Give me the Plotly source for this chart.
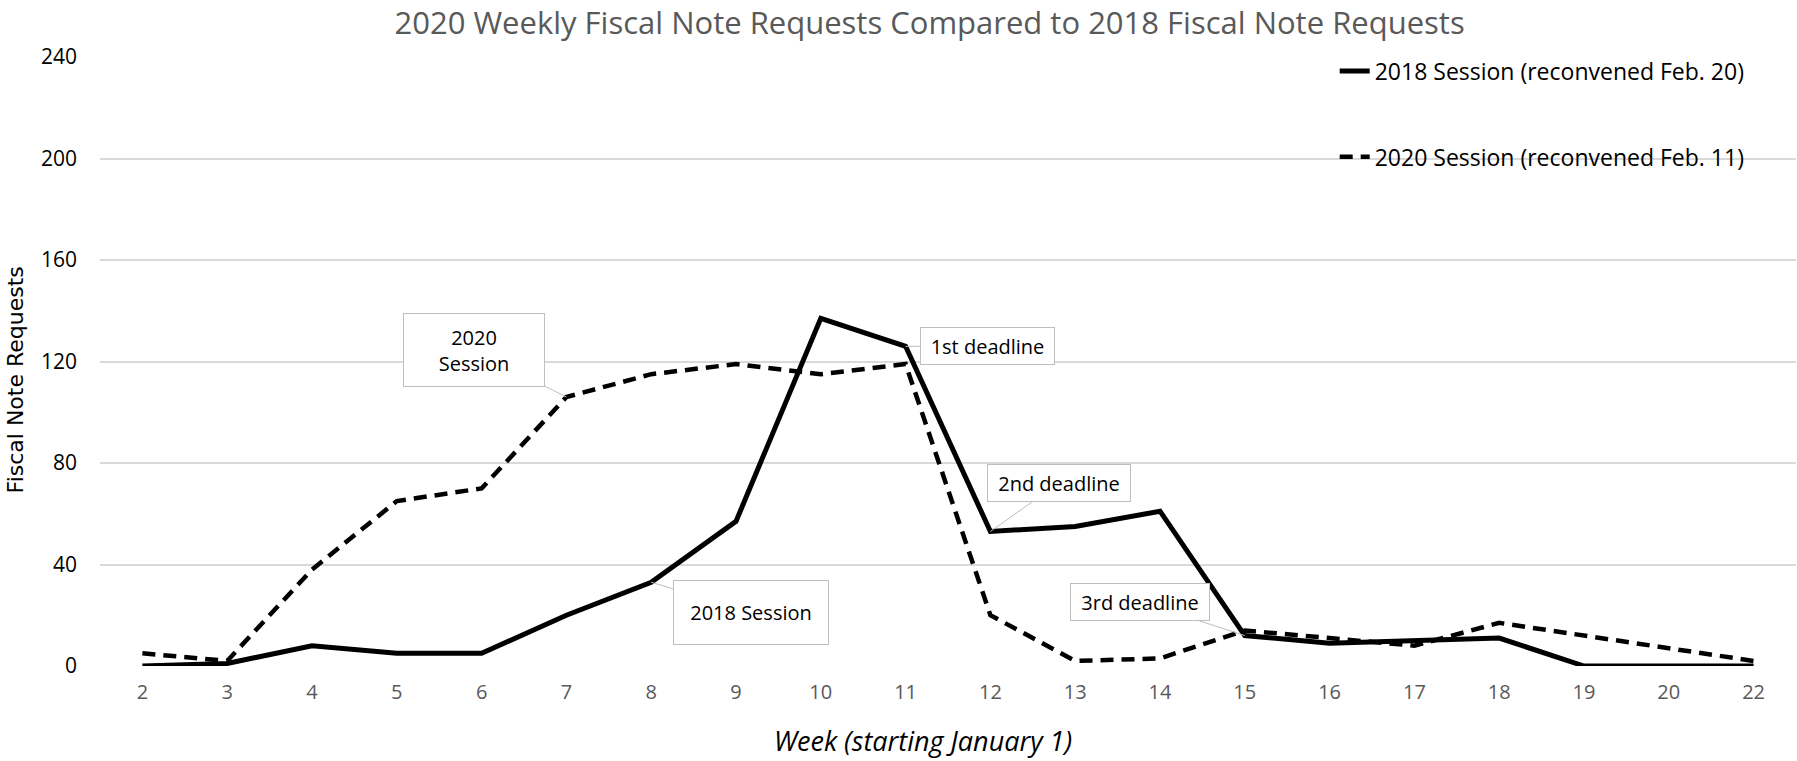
import plotly.graph_objects as go

weeks = ["2", "3", "4", "5", "6", "7", "8", "9", "10", "11", "12", "13", "14", "15", "16", "17", "18", "19", "20", "22"]
s2018 = [0, 1, 8, 5, 5, 20, 33, 57, 137, 126, 53, 55, 61, 12, 9, 10, 11, 0, 0, 0]
s2020 = [5, 2, 38, 65, 70, 106, 115, 119, 115, 119, 20, 2, 3, 14, 11, 8, 17, 12, 7, 2]
name2018 = "2018 Session (reconvened Feb. 20)"
name2020 = "2020 Session (reconvened Feb. 11)"
y_ticks = [0, 40, 80, 120, 160, 200, 240]

# callouts: (text, week, series, ax, ay, width, height)
callouts = [
    ("2020<br>Session", "7", s2020, -92, -47, 134, 66),
    ("1st deadline", "11", s2018, 82, 0, 127, 30),
    ("2nd deadline", "12", s2018, 69, -49, 136, 30),
    ("3rd deadline", "15", s2018, -105, -34, 132, 30),
    ("2018 Session", "8", s2018, 100, 30, 148, 57),
]

FONT = "Open Sans, sans-serif"

fig = go.Figure()
fig.add_trace(go.Scatter(x=weeks, y=s2018, mode="lines", name=name2018,
                         line=dict(color="black", width=5), legend="legend"))
fig.add_trace(go.Scatter(x=weeks, y=s2020, mode="lines", name=name2020,
                         line=dict(color="black", width=4.5, dash="13px,8px"), legend="legend2"))

annotations = []
for text, wk, series, ax, ay, w, h in callouts:
    i = weeks.index(wk)
    annotations.append(dict(
        x=i, y=series[i], xref="x", yref="y", text=text, showarrow=True,
        ax=ax, ay=ay, arrowhead=0, arrowwidth=1, arrowcolor="#bfbfbf",
        bordercolor="#bfbfbf", borderwidth=1, bgcolor="white", borderpad=3,
        width=w, height=h, font=dict(family=FONT, size=20, color="black"),
    ))

# axis titles
annotations.append(dict(text="<i>Week (starting January 1)</i>", xref="paper", yref="paper",
                        x=0.4853, y=-0.123, xanchor="center", yanchor="middle", showarrow=False,
                        font=dict(family=FONT, size=27, color="black")))
annotations.append(dict(text="Fiscal Note Requests", xref="paper", yref="paper", textangle=-90,
                        x=-0.0501, y=0.469, xanchor="center", yanchor="middle", showarrow=False,
                        font=dict(family="DejaVu Sans, Verdana, sans-serif", size=22, color="black")))

fig.update_layout(
    width=1797, height=761,
    margin=dict(l=100, r=1, t=57, b=95),
    paper_bgcolor="white", plot_bgcolor="white",
    title=dict(text="2020 Weekly Fiscal Note Requests Compared to 2018 Fiscal Note Requests",
               x=0.5173, xref="container", xanchor="center",
               y=0.9698, yref="container", yanchor="middle",
               font=dict(family=FONT, size=31, color="#595959")),
    xaxis=dict(type="category", categoryorder="array", categoryarray=weeks,
               range=[-0.5, len(weeks) - 0.5],
               showgrid=False, zeroline=False, showline=False, ticks="",
               tickfont=dict(family=FONT, size=20, color="#595959"),
               ticklabelstandoff=12),
    yaxis=dict(range=[0, 240], tickvals=y_ticks, showgrid=True, gridcolor="#d9d9d9",
               gridwidth=1.5, zeroline=False, showline=False, ticks="",
               tickfont=dict(family=FONT, size=21, color="black"),
               ticklabelstandoff=22),
    legend=dict(x=0.728, y=0.977, xanchor="left", yanchor="middle",
                font=dict(family=FONT, size=23, color="black"), bgcolor="rgba(0,0,0,0)"),
    legend2=dict(x=0.728, y=0.836, xanchor="left", yanchor="middle",
                 font=dict(family=FONT, size=23, color="black"), bgcolor="rgba(0,0,0,0)"),
    annotations=annotations,
    showlegend=True,
)

fig.write_html("out.html", config={"displayModeBar": False},
               post_script="document.body.style.margin='0px';")
